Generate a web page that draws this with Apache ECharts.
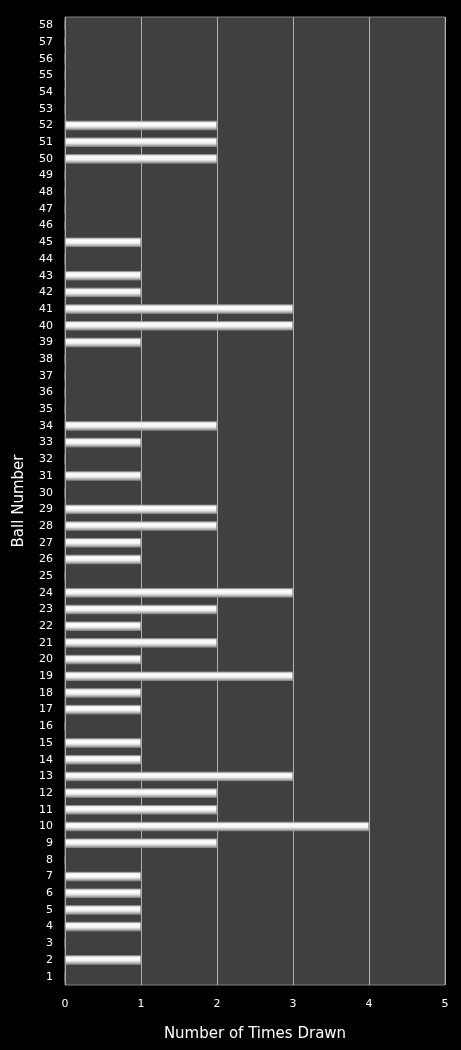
<!DOCTYPE html>
<html><head><meta charset="utf-8">
<script src="https://cdn.jsdelivr.net/npm/echarts@6/dist/echarts.min.js"></script>
<style>html,body{margin:0;background:#000;}#c{width:461px;height:1050px;}</style>
</head><body><div id="c"></div>
<script>
const balls = Array.from({length:58},(_,i)=>String(i+1));
const timesDrawn = [0,1,0,1,1,1,1,0,2,4,2,2,3,1,1,0,1,1,3,1,2,1,2,3,0,1,1,2,2,0,1,0,1,2,0,0,0,0,1,3,3,1,1,0,1,0,0,0,0,2,2,2,0,0,0,0,0,0];
const xTicks = [0,1,2,3,4,5];
const chart = echarts.init(document.getElementById('c'));
chart.setOption({
  backgroundColor:'#000',
  grid:{left:65,right:16,top:17,bottom:65,show:true,backgroundColor:'#404040',borderColor:'#808080',borderWidth:1},
  xAxis:{type:'value',min:0,max:5,interval:1,name:'Number of Times Drawn',nameLocation:'middle',nameGap:42,
    nameTextStyle:{color:'#fff',fontSize:15,fontFamily:'DejaVu Sans'},
    axisLabel:{color:'#fff',fontSize:11,margin:14,fontFamily:'DejaVu Sans'},
    axisLine:{show:false},axisTick:{show:false},
    splitLine:{lineStyle:{color:'#b0b0b0',width:1}}},
  yAxis:{type:'category',data:balls,name:'Ball Number',nameLocation:'middle',nameGap:38,
    nameTextStyle:{color:'#fff',fontSize:15,fontFamily:'DejaVu Sans'},
    axisLabel:{color:'#fff',fontSize:11,margin:12,fontFamily:'DejaVu Sans',interval:0},
    axisLine:{show:false},axisTick:{show:false},splitLine:{show:false}},
  series:[{type:'bar',data:timesDrawn,barWidth:9,
    itemStyle:{borderColor:'#999',borderWidth:0.5,color:new echarts.graphic.LinearGradient(0,0,0,1,[
      {offset:0,color:'#d8d8d8'},{offset:0.3,color:'#ffffff'},{offset:0.6,color:'#f0f0f0'},{offset:1,color:'#8a8a8a'}])}}]
});
</script></body></html>
